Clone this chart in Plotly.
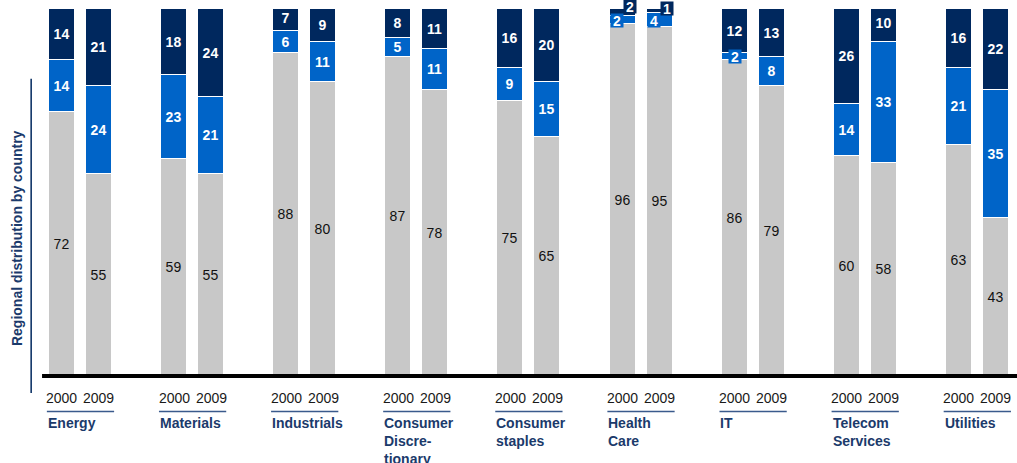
import plotly.graph_objects as go

# ---------------- data ----------------
categories = ["Energy", "Materials", "Industrials", "Consumer<br>Discre-<br>tionary",
              "Consumer<br>staples", "Health<br>Care", "IT", "Telecom<br>Services", "Utilities"]
years = ["2000", "2009"]

domestic_2000 = [72, 59, 88, 87, 75, 96, 86, 60, 63]
domestic_2009 = [55, 55, 80, 78, 65, 95, 79, 58, 43]
regional_2000 = [14, 23, 6, 5, 9, 2, 2, 14, 21]
regional_2009 = [24, 21, 11, 11, 15, 4, 8, 33, 35]
global_2000 = [14, 18, 7, 8, 16, 2, 12, 26, 16]
global_2009 = [21, 24, 9, 11, 20, 1, 13, 10, 22]

y_title = "Regional distribution by country"

# ---------------- styling ----------------
GRAY = "#C8C8C8"
BLUE = "#0064C8"
NAVY = "#00285E"
TXT_NAVY = "#1B3A6B"
FONT = "Liberation Sans, Arial, sans-serif"

OFF = 0.165       # half distance between the two bars of a group (group units)
BAR_W = 0.232
MIN_INSIDE = 5    # segments smaller than this get a boxed annotation instead

n = len(categories)
xs = [i - OFF for i in range(n)] + [i + OFF for i in range(n)]

series = [
    ("Domestic", domestic_2000 + domestic_2009, GRAY, "#111111", "normal"),
    ("Regional", regional_2000 + regional_2009, BLUE, "white", "bold"),
    ("Global", global_2000 + global_2009, NAVY, "white", "bold"),
]

fig = go.Figure()
for name, vals, col, tcol, tw in series:
    fig.add_trace(go.Bar(
        x=xs, y=vals, name=name, width=BAR_W,
        marker=dict(color=col, line=dict(color="white", width=1)),
        text=[str(v) if v >= MIN_INSIDE else "" for v in vals],
        textposition="inside", insidetextanchor="middle",
        textfont=dict(family=FONT, size=14, color=tcol, weight=tw),
        textangle=0, hoverinfo="skip",
    ))

# boxed labels for very small segments: (series index, bar index) -> (xshift, yshift)
small_offsets = {
    (1, 5): (-6, 0), (2, 5): (7.5, 6.5),
    (1, 5 + n): (-5.5, 0), (2, 5 + n): (7.5, 2),
    (1, 6): (0, 0),
}
annotations = []
for (si, bi), (dx, dy) in small_offsets.items():
    vals = series[si][1]
    base = sum(series[k][1][bi] for k in range(si))
    annotations.append(dict(
        x=xs[bi], y=base + vals[bi] / 2, xref="x", yref="y",
        text="<b>%d</b>" % vals[bi], showarrow=False,
        xshift=dx, yshift=dy, bgcolor=series[si][2], borderpad=0,
        width=12, height=13,
        font=dict(family=FONT, size=14, color="white"),
    ))

# paper y positions (plot domain maps y=0..100 onto paper 0..1)
Y_YEAR = -0.060
Y_ULINE = -0.097
Y_CAT = -0.101

shapes = []
for i, cat in enumerate(categories):
    for j, yr in enumerate(years):
        annotations.append(dict(
            x=i - OFF + 2 * OFF * j, y=Y_YEAR, xref="x", yref="paper", yanchor="middle",
            text=yr, showarrow=False, font=dict(family=FONT, size=14, color="#1a1a1a"),
        ))
    shapes.append(dict(type="line", xref="x", yref="paper", x0=i - 0.3, x1=i + 0.3,
                       y0=Y_ULINE, y1=Y_ULINE, line=dict(color="#3A5A8C", width=1.5)))
    annotations.append(dict(
        x=i - 0.3, y=Y_CAT, xref="x", yref="paper", xanchor="left", yanchor="top",
        align="left", text="<b>%s</b>" % cat, showarrow=False, xshift=-1,
        font=dict(family=FONT, size=14, color=TXT_NAVY),
    ))

# baseline and left rule
shapes.append(dict(type="line", xref="x", yref="paper", x0=-0.343, x1=8.36, y0=0, y1=0,
                   line=dict(color="black", width=4), layer="above"))
shapes.append(dict(type="line", xref="x", yref="paper", x0=-0.44, x1=-0.44,
                   y0=-0.046, y1=0.81, line=dict(color=NAVY, width=1.5)))

annotations.append(dict(
    x=-0.566, y=0.376, xref="x", yref="paper", text="<b>%s</b>" % y_title, textangle=-90,
    showarrow=False, font=dict(family=FONT, size=14, color=TXT_NAVY),
))

fig.update_layout(
    width=1017, height=463,
    margin=dict(l=0, r=0, t=9, b=87),
    barmode="stack", bargap=0,
    showlegend=False,
    plot_bgcolor="white", paper_bgcolor="white",
    xaxis=dict(range=[-0.718, 8.354], visible=False, fixedrange=True),
    yaxis=dict(range=[0, 100], visible=False, fixedrange=True),
    uniformtext=dict(minsize=14, mode="show"),
    shapes=shapes, annotations=annotations,
)

fig.write_html("out.html", config={"displayModeBar": False},
               post_script="document.body.style.margin='0';document.body.style.overflow='hidden';")
